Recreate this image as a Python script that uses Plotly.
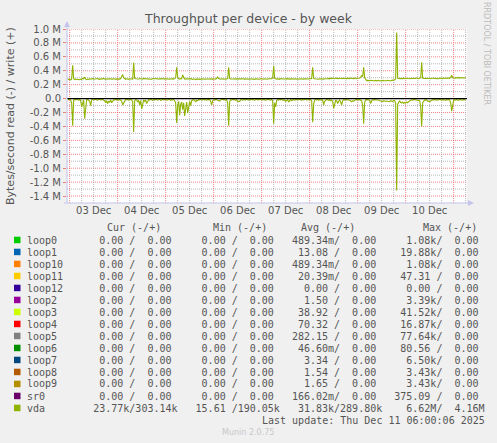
import plotly.graph_objects as go
import pandas as pd

# ---------------- data ----------------
title_text = "Throughput per device - by week"
y_title = "Bytes/second read (-) / write (+)"
series_start = "2025-12-02 23:00"   # one sample every 30 minutes
sample_step = "30min"

# vda write (+) in kB/s
vda_write_k = [
    280,275,278,270,282,480,285,272,280,276,283,278,272,281,277,290,284,310,279,274,
    281,276,284,279,286,290,279,283,276,282,288,280,277,285,279,283,290,281,276,284,
    279,286,282,277,284,280,288,281,276,283,279,285,280,289,310,345,300,282,278,284,
    281,277,285,280,283,279,520,290,284,280,286,282,288,281,285,279,290,283,287,281,
    284,280,286,282,279,287,283,280,285,288,282,279,286,281,284,289,283,280,286,282,
    285,279,283,288,282,286,280,290,300,450,310,285,280,288,284,340,295,282,279,286,
    281,284,278,287,282,276,285,280,272,283,279,286,281,277,284,280,287,282,278,285,
    280,284,279,286,281,277,285,282,279,292,312,288,281,278,284,280,286,282,279,285,
    285,450,290,282,279,286,281,284,278,287,282,280,285,279,283,288,281,277,284,280,
    286,282,279,285,281,288,283,277,284,280,286,282,279,287,281,284,278,285,281,283,
    279,286,282,280,285,295,470,290,283,279,286,281,277,284,289,282,279,285,281,287,
    283,279,285,280,287,282,278,284,281,286,282,279,285,281,288,283,280,286,282,279,
    285,281,287,283,290,450,292,284,280,286,282,279,285,281,288,284,280,286,283,279,
    286,290,284,293,288,295,290,286,294,289,292,287,295,290,286,293,289,296,291,287,
    294,290,287,295,289,292,288,296,291,287,293,290,296,305,330,320,450,300,265,258,
    262,255,258,264,256,260,253,259,262,255,257,263,254,260,256,262,258,254,261,257,
    263,256,260,254,262,258,265,270,285,950,295,288,293,287,291,285,294,289,286,292,
    288,294,290,286,293,289,285,292,288,295,290,286,293,300,520,295,289,293,287,291,
    288,294,290,286,292,289,295,291,287,293,290,286,294,289,292,288,295,291,287,293,
    290,296,292,305,335,300,297,293,301,296,304,299,295,302,298,305,300,296,303,
]

# vda read (-) in kB/s (drawn below zero)
vda_read_k = [
    10,15,8,20,60,390,25,12,18,9,15,22,10,30,120,60,20,290,80,15,
    12,25,40,100,18,10,22,14,9,17,25,12,8,20,15,11,24,30,60,30,
    70,40,50,20,60,30,15,22,10,18,12,25,14,20,35,90,60,20,12,18,
    10,22,15,9,18,40,480,30,14,20,50,25,90,30,150,60,20,40,25,70,
    30,15,22,10,18,25,12,20,9,15,22,14,10,25,18,12,20,15,9,22,
    14,18,10,25,15,20,12,30,60,350,100,40,240,80,50,160,60,250,120,50,
    210,80,40,100,30,20,15,25,50,20,30,12,18,10,22,15,9,20,14,25,
    12,18,10,40,90,30,15,22,12,18,25,30,35,20,14,10,18,12,22,15,
    60,390,40,15,22,10,18,12,25,14,40,35,40,18,10,22,15,12,20,9,
    15,22,12,18,10,20,14,25,12,9,18,15,22,10,20,14,12,18,25,15,
    10,18,14,22,12,30,360,60,120,25,15,20,12,18,10,22,14,18,40,25,
    15,50,20,12,30,18,10,22,14,12,20,15,9,18,25,12,20,14,10,18,
    15,22,12,18,30,340,80,20,12,18,10,25,14,20,15,22,90,40,20,12,
    18,25,14,30,22,40,140,60,25,30,70,40,20,50,90,30,15,22,12,18,
    14,20,25,35,45,30,40,22,15,18,12,20,14,25,30,100,360,50,20,15,
    12,18,25,70,30,15,22,12,18,14,20,25,30,40,35,45,30,38,42,35,
    40,35,45,30,38,42,25,30,60,1320,80,45,30,55,60,50,70,55,65,50,
    60,45,30,25,18,22,12,15,20,14,18,25,30,120,400,60,25,18,22,15,
    40,35,45,30,20,15,22,12,18,25,14,20,10,18,22,15,12,20,25,14,
    18,12,22,60,180,60,20,15,22,12,18,25,14,20,15,22,12,18,20,
]

x_range = ["2025-12-02 22:40", "2025-12-11 06:40"]
day_labels = ["03 Dec", "04 Dec", "05 Dec", "06 Dec", "07 Dec", "08 Dec", "09 Dec", "10 Dec"]
day_label_pos = ["2025-12-03 12:00", "2025-12-04 12:00", "2025-12-05 12:00", "2025-12-06 12:00",
                 "2025-12-07 12:00", "2025-12-08 12:00", "2025-12-09 12:00", "2025-12-10 12:00"]
y_tick_vals = [1.0e6, 0.8e6, 0.6e6, 0.4e6, 0.2e6, 0.0, -0.2e6, -0.4e6, -0.6e6, -0.8e6,
               -1.0e6, -1.2e6, -1.4e6]
y_tick_text = ["1.0 M", "0.8 M", "0.6 M", "0.4 M", "0.2 M", "0.0", "-0.2 M", "-0.4 M",
               "-0.6 M", "-0.8 M", "-1.0 M", "-1.2 M", "-1.4 M"]
y_range = [-1.5e6, 1.0e6]

legend_names = ["loop0", "loop1", "loop10", "loop11", "loop12", "loop2", "loop3", "loop4",
                "loop5", "loop6", "loop7", "loop8", "loop9", "sr0", "vda"]
legend_colors = ["#00CC00", "#0066B3", "#FF8000", "#FFCC00", "#330099", "#990099", "#CCFF00",
                 "#FF0000", "#808080", "#008F00", "#00487D", "#B35A00", "#B38F00", "#6B006B",
                 "#8FB300"]
cur_read = ["0.00", "0.00", "0.00", "0.00", "0.00", "0.00", "0.00", "0.00", "0.00", "0.00",
            "0.00", "0.00", "0.00", "0.00", "23.77k"]
cur_write = ["0.00", "0.00", "0.00", "0.00", "0.00", "0.00", "0.00", "0.00", "0.00", "0.00",
             "0.00", "0.00", "0.00", "0.00", "303.14k"]
min_read = ["0.00", "0.00", "0.00", "0.00", "0.00", "0.00", "0.00", "0.00", "0.00", "0.00",
            "0.00", "0.00", "0.00", "0.00", "15.61"]
min_write = ["0.00", "0.00", "0.00", "0.00", "0.00", "0.00", "0.00", "0.00", "0.00", "0.00",
             "0.00", "0.00", "0.00", "0.00", "190.05k"]
avg_read = ["489.34m", "13.08", "489.34m", "20.39m", "0.00", "1.50", "38.92", "70.32",
            "282.15", "46.60m", "3.34", "1.54", "1.65", "166.02m", "31.83k"]
avg_write = ["0.00", "0.00", "0.00", "0.00", "0.00", "0.00", "0.00", "0.00", "0.00", "0.00",
             "0.00", "0.00", "0.00", "0.00", "289.80k"]
max_read = ["1.08k", "19.88k", "1.08k", "47.31", "0.00", "3.39k", "41.52k", "16.87k",
            "77.64k", "80.56", "6.50k", "3.43k", "3.43k", "375.09", "6.62M"]
max_write = ["0.00", "0.00", "0.00", "0.00", "0.00", "0.00", "0.00", "0.00", "0.00", "0.00",
             "0.00", "0.00", "0.00", "0.00", "4.16M"]
legend_headers = ["Cur (-/+)", "Min (-/+)", "Avg (-/+)", "Max (-/+)"]
last_update = "Last update: Thu Dec 11 06:00:06 2025"
footer = "Munin 2.0.75"
side_text = "RRDTOOL / TOBI OETIKER"

# ---------------- layout helpers ----------------
W, H = 497, 443
L, R, T, B = 67, 30, 29, 240
PW, PH = W - L - R, H - T - B
BOTTOM = H - B


def X(px):
    return (px - L) / PW


def Y(py):
    return (BOTTOM - py) / PH


TXT = "#555555"
MONO = "DejaVu Sans Mono"
SANS = "DejaVu Sans"
NB = "\u00a0"

t_write = pd.date_range(series_start, periods=len(vda_write_k), freq=sample_step)
t_read = pd.date_range(series_start, periods=len(vda_read_k), freq=sample_step)

fig = go.Figure()
fig.add_trace(go.Scatter(x=t_write, y=[v * 1000 for v in vda_write_k], mode="lines",
                         line=dict(color="#8FB300", width=1.1), hoverinfo="skip"))
fig.add_trace(go.Scatter(x=t_read, y=[-v * 1000 for v in vda_read_k], mode="lines",
                         line=dict(color="#8FB300", width=1.1), hoverinfo="skip"))

shapes = []
MAJ = "rgba(235,90,90,0.75)"
MIN = "rgba(160,160,160,0.75)"
# horizontal grid
for k in range(-14, 11):
    v = k * 0.1e6
    col = MAJ if k % 2 == 0 else MIN
    shapes.append(dict(type="line", xref="paper", yref="y", x0=0, x1=1, y0=v, y1=v,
                       line=dict(color=col, width=1, dash="1px,1px"), layer="below"))
# vertical grid
grid_times = pd.date_range("2025-12-03 00:00", "2025-12-11 06:00", freq="6h")
for gt in grid_times:
    col = MAJ if gt.hour == 0 else MIN
    shapes.append(dict(type="line", xref="x", yref="paper", x0=gt, x1=gt, y0=0, y1=1,
                       line=dict(color=col, width=1, dash="1px,1px"), layer="below"))
# zero line
shapes.append(dict(type="line", xref="paper", yref="y", x0=0, x1=1, y0=0, y1=0,
                   line=dict(color="#000000", width=1.2), layer="above"))
# axes with arrows
AX = "#C4C4EE"
shapes.append(dict(type="line", xref="paper", yref="paper", x0=X(67), x1=X(67),
                   y0=Y(203), y1=Y(24), line=dict(color=AX, width=1)))
shapes.append(dict(type="line", xref="paper", yref="paper", x0=X(64), x1=X(471),
                   y0=Y(203), y1=Y(203), line=dict(color=AX, width=1)))
shapes.append(dict(type="path", xref="paper", yref="paper",
                   path=f"M {X(64)} {Y(27)} L {X(70)} {Y(27)} L {X(67)} {Y(21)} Z",
                   fillcolor=AX, line=dict(width=0)))
shapes.append(dict(type="path", xref="paper", yref="paper",
                   path=f"M {X(468)} {Y(200)} L {X(468)} {Y(206)} L {X(474)} {Y(203)} Z",
                   fillcolor=AX, line=dict(width=0)))

annotations = []
annotations.append(dict(text=title_text, x=X(248), y=Y(19), xref="paper", yref="paper",
                        showarrow=False, font=dict(family=SANS, size=12.5, color=TXT),
                        xanchor="center", yanchor="middle"))
annotations.append(dict(text=y_title, x=X(10), y=Y(116), xref="paper", yref="paper",
                        showarrow=False, textangle=-90,
                        font=dict(family=SANS, size=11, color=TXT),
                        xanchor="center", yanchor="middle"))
annotations.append(dict(text=side_text, x=X(487), y=Y(53), xref="paper", yref="paper",
                        showarrow=False, textangle=90,
                        font=dict(family=SANS, size=8, color="#BBBBBB"),
                        xanchor="center", yanchor="middle"))


def fmt(s):
    if s[-1] in "kmM":
        num, suf = s[:-1], s[-1]
    else:
        num, suf = s, " "
    return num.rjust(6) + suf


ROW0, ROWSTEP = 240, 12
for i, name in enumerate(legend_names):
    py = ROW0 + i * ROWSTEP
    shapes.append(dict(type="rect", xref="paper", yref="paper",
                       x0=X(14), x1=X(20.5), y0=Y(py - 3.3), y1=Y(py + 3.2),
                       fillcolor=legend_colors[i], line=dict(width=0)))
    line = (name.ljust(10)
            + fmt(cur_read[i]) + "/" + fmt(cur_write[i]) + "  "
            + fmt(min_read[i]) + "/" + fmt(min_write[i]) + "  "
            + fmt(avg_read[i]) + "/" + fmt(avg_write[i]) + "  "
            + fmt(max_read[i]) + "/" + fmt(max_write[i]))
    annotations.append(dict(text=line.replace(" ", NB), x=X(24.7), y=Y(py), xref="paper",
                            yref="paper", showarrow=False, xanchor="left", yanchor="middle",
                            font=dict(family=MONO, size=10, color=TXT)))

for hdr, px in zip(legend_headers, [105.3, 211.3, 299.3, 420.7]):
    annotations.append(dict(text=hdr, x=X(px), y=Y(227), xref="paper", yref="paper",
                            showarrow=False, xanchor="left", yanchor="middle",
                            font=dict(family=MONO, size=10, color=TXT)))

annotations.append(dict(text=last_update, x=X(259.7), y=Y(420), xref="paper", yref="paper",
                        showarrow=False, xanchor="left", yanchor="middle",
                        font=dict(family=MONO, size=10, color=TXT)))
annotations.append(dict(text=footer, x=X(248), y=Y(432), xref="paper", yref="paper",
                        showarrow=False, xanchor="center", yanchor="middle",
                        font=dict(family=SANS, size=8, color="#C8C8C8")))

fig.update_layout(
    width=W, height=H,
    margin=dict(l=L, r=R, t=T, b=B, pad=0),
    paper_bgcolor="#F0F0F0", plot_bgcolor="#FFFFFF",
    showlegend=False,
    shapes=shapes, annotations=annotations,
    xaxis=dict(type="date", range=x_range, tickvals=day_label_pos, ticktext=day_labels,
               showgrid=False, zeroline=False, showline=False, ticks="",
               tickfont=dict(family=SANS, size=10, color=TXT), fixedrange=True),
    yaxis=dict(range=y_range, tickvals=y_tick_vals, ticktext=y_tick_text,
               showgrid=False, zeroline=False, showline=False, ticks="outside",
               ticklen=3, tickcolor=MAJ, tickwidth=1,
               tickfont=dict(family=SANS, size=10, color=TXT), fixedrange=True),
)

fig.write_html("out.html", config={"displayModeBar": False},
               post_script="document.body.style.margin='0';document.body.style.background='#F0F0F0';")
